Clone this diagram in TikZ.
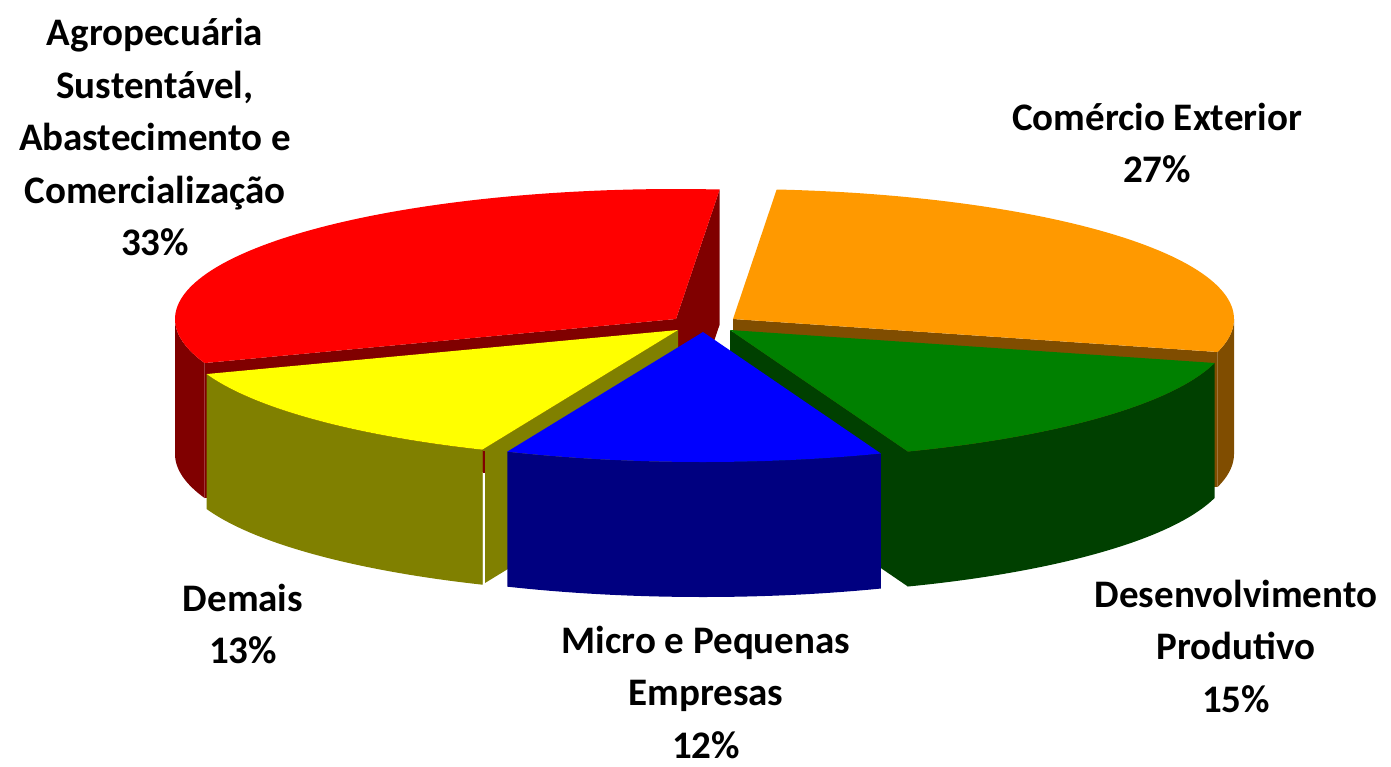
\documentclass[tikz,border=0pt]{standalone}
\usepackage{fontspec}
\setmainfont{Carlito}
\definecolor{redtop}{RGB}{255,0,0}
\definecolor{redside}{RGB}{128,0,0}
\definecolor{oratop}{RGB}{255,153,0}
\definecolor{oraside}{RGB}{128,77,0}
\definecolor{grntop}{RGB}{0,128,0}
\definecolor{grnside}{RGB}{0,64,0}
\definecolor{blutop}{RGB}{0,0,255}
\definecolor{bluside}{RGB}{0,0,128}
\definecolor{yeltop}{RGB}{255,255,0}
\definecolor{yelside}{RGB}{128,128,0}
\newcommand{\pieRX}{501}
\newcommand{\pieRY}{130}
\newcommand{\pieDP}{135}
% #1 ax, #2 ay, #3 t1, #4 t2, #5 colour
\newcommand{\pieTopFace}[5]{\fill[#5] (#1,#2) -- plot[domain=#3:#4,samples=90] ({#1+\pieRX*cos(\x)},{#2+\pieRY*sin(\x)}) -- cycle;}
\newcommand{\pieWallFace}[5]{\fill[#5] plot[domain=#3:#4,samples=60] ({#1+\pieRX*cos(\x)},{#2+\pieRY*sin(\x)}) -- plot[domain=#4:#3,samples=60] ({#1+\pieRX*cos(\x)},{#2-\pieDP+\pieRY*sin(\x)}) -- cycle;}
\newcommand{\pieRadFace}[4]{\fill[#4] (#1,#2) -- ({#1+\pieRX*cos(#3)},{#2+\pieRY*sin(#3)}) -- ++(0,-\pieDP) -- ({#1},{#2-\pieDP}) -- cycle;}
\tikzset{lbl/.style={align=center,text=black,inner sep=0pt,font=\fontsize{39}{52.5}\selectfont\bfseries}}
\begin{document}
\begin{tikzpicture}[x=1pt,y=1pt]
\useasboundingbox (0,0) rectangle (1391,-766);
% red slice
\pieRadFace{676}{-319}{85}{redside}
\pieRadFace{676}{-319}{199.8}{redside}
\pieWallFace{676}{-319}{180}{199.8}{redside}
\pieTopFace{676}{-319}{85}{199.8}{redtop}
% orange slice
\pieRadFace{733}{-319}{-14.7}{oraside}
\pieWallFace{733}{-319}{-14.7}{0}{oraside}
\pieTopFace{733}{-319}{-14.7}{85}{oratop}
% yellow slice
\pieRadFace{678}{-330}{247}{yelside}
\pieWallFace{678}{-330}{199.8}{247}{yelside}
\pieTopFace{678}{-330}{199.8}{247}{yeltop}
\fill[redside] (482.8,-451) rectangle (485,-473);
\fill[white] (482.8,-473) rectangle (485,-586);
% green slice
\pieRadFace{730}{-330}{290.8}{grnside}
\pieWallFace{730}{-330}{290.8}{345.3}{grnside}
\pieTopFace{730}{-330}{290.8}{345.3}{grntop}
% blue slice
\pieWallFace{703}{-332}{247}{290.8}{bluside}
\pieTopFace{703}{-332}{247}{290.8}{blutop}
% labels
\node[lbl] (agro) at (155,-137) {Agropecuária\\Sustentável,\\Abastecimento e\\Comercialização\\33\%};
\node[lbl] (come) at (1157,-143) {Comércio Exterior\\27\%};
\node[lbl] (dese) at (1236,-646) {Desenvolvimento\\Produtivo\\15\%};
\node[lbl] (micr) at (706,-692) {Micro e Pequenas\\Empresas\\12\%};
\node[lbl] (dema) at (243,-624) {Demais\\13\%};
\end{tikzpicture}
\end{document}
